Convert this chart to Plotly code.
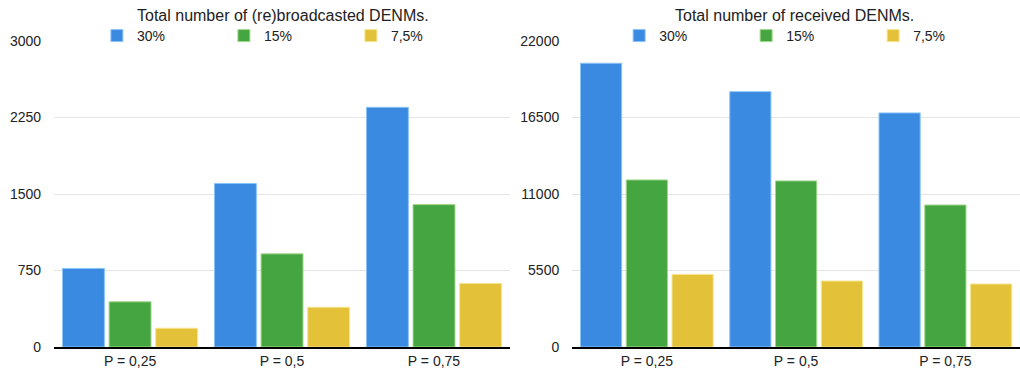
import plotly.graph_objects as go

categories = ["P = 0,25", "P = 0,5", "P = 0,75"]
series_names = ["30%", "15%", "7,5%"]

broadcast_30 = [770, 1603, 2350]
broadcast_15 = [443, 913, 1396]
broadcast_75 = [184, 390, 623]

received_30 = [20400, 18360, 16830]
received_15 = [12010, 11940, 10210]
received_75 = [5220, 4745, 4530]

left_ticks = [0, 750, 1500, 2250, 3000]
right_ticks = [0, 5500, 11000, 16500, 22000]

left_title = "Total number of (re)broadcasted DENMs."
right_title = "Total number of received DENMs."

colors = ["#3a8ae2", "#45a540", "#e3c23a"]
edge = ["#8cc4f8", "#a0d88a", "#f6e590"]

FONT = "Liberation Sans, Arial, Helvetica, sans-serif"

fig = go.Figure()

for name, vals, c, e in zip(series_names, [broadcast_30, broadcast_15, broadcast_75], colors, edge):
    fig.add_trace(go.Bar(x=categories, y=vals, name=name, marker=dict(color=c, line=dict(color=e, width=1)),
                         xaxis="x", yaxis="y", legend="legend"))
for name, vals, c, e in zip(series_names, [received_30, received_15, received_75], colors, edge):
    fig.add_trace(go.Bar(x=categories, y=vals, name=name, marker=dict(color=c, line=dict(color=e, width=1)),
                         xaxis="x2", yaxis="y2", legend="legend2"))

axis_common = dict(showgrid=False, showline=True, linecolor="#000", linewidth=1.5, ticks="",
                   tickfont=dict(family=FONT, size=14, color="#222"), fixedrange=True, automargin=False)
yaxis_common = dict(showgrid=True, gridcolor="#e4e4e4", gridwidth=1, zeroline=False, showline=False,
                    ticks="", tickfont=dict(family=FONT, size=14, color="#222"), ticklabelstandoff=12,
                    automargin=False, fixedrange=True)

legend_common = dict(orientation="h", yanchor="middle", xanchor="left", font=dict(family=FONT, size=14, color="#222"),
                     bgcolor="rgba(0,0,0,0)", entrywidth=82, itemclick=False, itemdoubleclick=False, tracegroupgap=0)

T, B = 41, 26
plot_h = 373 - T - B


def py(px_from_top):
    return (373 - B - px_from_top) / plot_h


fig.update_layout(
    width=1020, height=373,
    margin=dict(l=0, r=0, t=T, b=B, autoexpand=False),
    paper_bgcolor="white", plot_bgcolor="white",
    barmode="group", bargap=0.08, bargroupgap=0.1,
    font=dict(family=FONT, color="#222"),
    xaxis=dict(domain=[0.053, 0.5], anchor="y", **axis_common),
    yaxis=dict(range=[0, 3000], tickvals=left_ticks, ticktext=[str(v) for v in left_ticks], anchor="x", **yaxis_common),
    xaxis2=dict(domain=[0.561, 1.0], anchor="y2", **axis_common),
    yaxis2=dict(range=[0, 22000], tickvals=right_ticks, ticktext=[str(v) for v in right_ticks], anchor="x2", **yaxis_common),
    legend=dict(x=0.095, y=py(36), **legend_common),
    legend2=dict(x=0.607, y=py(36), **legend_common),
    annotations=[
        dict(text=left_title, x=0.277, y=py(15), xref="paper", yref="paper", showarrow=False,
             xanchor="center", yanchor="middle", font=dict(family=FONT, size=16, color="#222")),
        dict(text=right_title, x=0.779, y=py(15), xref="paper", yref="paper", showarrow=False,
             xanchor="center", yanchor="middle", font=dict(family=FONT, size=16, color="#222")),
    ],
)

fig.write_html("out.html", config={"displayModeBar": False},
               post_script="document.body.style.margin='0';document.body.style.overflow='hidden';")
